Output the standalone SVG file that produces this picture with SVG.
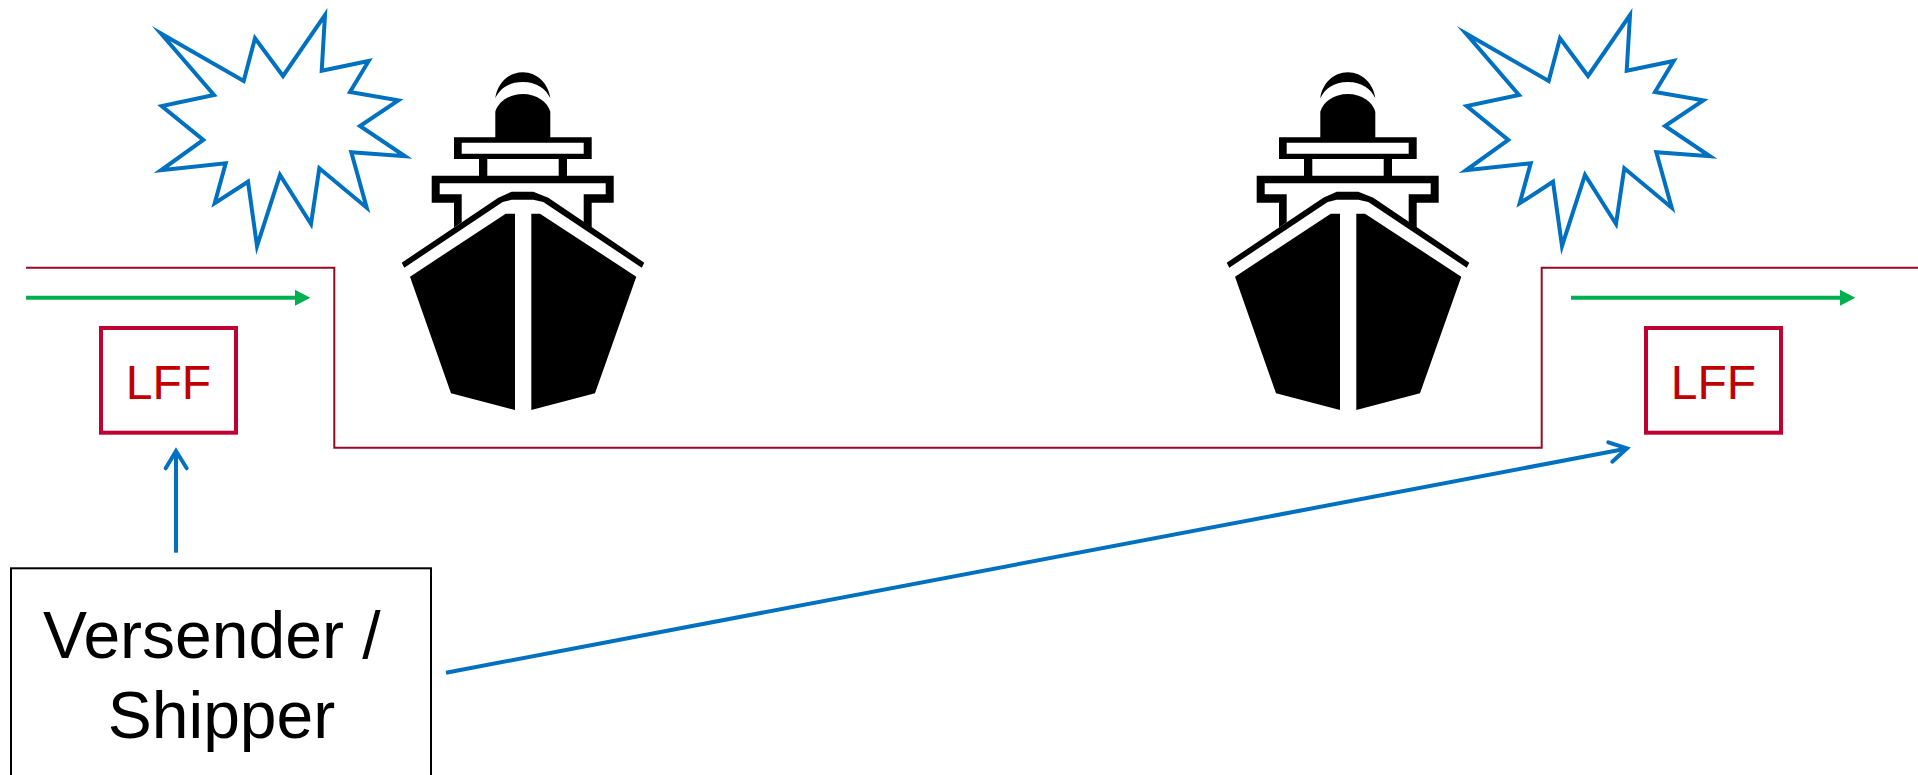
<svg xmlns="http://www.w3.org/2000/svg" xmlns:xlink="http://www.w3.org/1999/xlink" width="1918" height="775" viewBox="0 0 1918 775">
<style>
.burst{fill:#fff;stroke:#0070C0;stroke-width:4;stroke-linejoin:miter;stroke-miterlimit:20}
.lffbox{fill:#fff;stroke:#BE0032;stroke-width:4}
.lfftext{font-family:"Liberation Sans",Arial,sans-serif;font-size:48px;fill:#C00000}
.big{font-family:"Liberation Sans",Arial,sans-serif;font-size:66px;fill:#000}
.red{fill:none;stroke:#960A23;stroke-width:2}
.green{fill:none;stroke:#00B050;stroke-width:4}
.greenhead{fill:#00B050}
.blue{fill:none;stroke:#0070C0;stroke-width:4;stroke-linecap:butt}
.bluehead{fill:none;stroke:#0070C0;stroke-width:4;stroke-linecap:round;stroke-linejoin:miter}
</style>
<defs>
<polygon id="burstShape" points="161,33.5 243.7,81 255,38.3 283,76 325,15 321.7,70.7 368.7,61 350,92 398.3,100.3 360,126 405,156.3 351.3,152.3 366.7,207.7 319.3,168.3 311,224 280,175 257,246 248,181.7 214.7,203.3 225.700,163.300 161,170.300 203.300,140 161.700,106 214,95"/>
<g id="shipShape" fill="#000" fill-rule="evenodd">
<path d="M495.300,98.300C497,84 508,72.300 522.800,72.300S548.600,84 550.300,98.300C546,89 537,82 522.800,82S499.600,89 495.300,98.300Z"/>
<path d="M495.300,138V111.700C498,102 509,94 522.800,94S547.600,102 550.300,111.700V138Z"/>
<path d="M454,137.300H591.700V159H454ZM461.700,142.700V153.700H583.700V142.700Z"/>
<rect x="479" y="159" width="8.300" height="17"/>
<rect x="558.700" y="159" width="8.300" height="17"/>
<path d="M431.700,175.700H613.700V202.700H591.700V227.500L583.700,222.300V194.300H605.700V183.300H439.700V194.300H461.700V222.300L454,227.500V202.700H431.700Z"/>
<path d="M401.700,262.700L498.300,197.700L511.700,191.700H533.300L548.300,197.700L644.300,262.700L641.700,267.700L543.300,202L533.300,199.700H511.700L502.700,202L404.300,267.700Z"/>
<path d="M505.700,213.700H515V410L451,393.300L410,276.700Z"/>
<path d="M540,213.700H531.300V410L595,393.300L636.300,276.700Z"/>
</g>
</defs>
<g id="connectors">
<path class="red" d="M26,267.700H334.300V447.700H1541.700V267.700H1918"/>
<path class="green" d="M26,297.700H297"/>
<polygon class="greenhead" points="295,289.700 310.300,297.700 295,305.700"/>
<path class="green" d="M1571,297.700H1842"/>
<polygon class="greenhead" points="1840,289.700 1855.300,297.700 1840,305.700"/>
<path class="blue" d="M176,552.700V452"/>
<path class="bluehead" d="M165.700,468.300L176,451L186.700,468.300"/>
<path class="blue" d="M446,672.700L1626,448.800"/>
<path class="bluehead" d="M1608.300,442.300L1627,448.300L1612.300,461.700"/>
</g>
<g id="burst-left"><use xlink:href="#burstShape" href="#burstShape" class="burst"/></g>
<g id="burst-right"><use xlink:href="#burstShape" href="#burstShape" class="burst" transform="translate(1305 0)"/></g>
<g id="ship-left"><use xlink:href="#shipShape" href="#shipShape"/></g>
<g id="ship-right"><use xlink:href="#shipShape" href="#shipShape" transform="translate(825 0)"/></g>
<g id="lff-left">
<rect class="lffbox" x="101" y="328" width="135" height="104.700"/>
<text class="lfftext" x="168.500" y="399" text-anchor="middle">LFF</text>
</g>
<g id="lff-right">
<rect class="lffbox" x="1646" y="328" width="135" height="104.700"/>
<text class="lfftext" x="1713.500" y="399" text-anchor="middle">LFF</text>
</g>
<g id="shipper">
<rect x="11" y="568.300" width="420" height="230" fill="#fff" stroke="#000" stroke-width="2"/>
<text class="big" x="43" y="658.300">Versender /</text>
<text class="big" x="221.500" y="738.300" text-anchor="middle">Shipper</text>
</g>
</svg>
